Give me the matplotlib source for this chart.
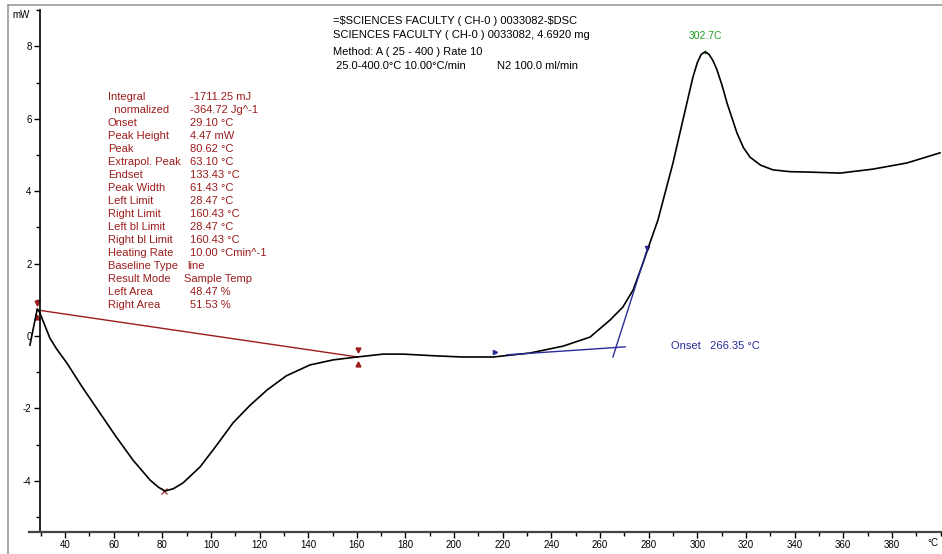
"""DSC thermogram: sample 0033082, 25-400 C at 10 C/min."""

import matplotlib
matplotlib.use("Agg")
import matplotlib.pyplot as plt
from matplotlib.lines import Line2D
from matplotlib.ticker import MultipleLocator

plt.rcParams.update({
    "font.family": ["Liberation Sans", "DejaVu Sans"],
    "font.size": 8,
    "axes.unicode_minus": False,
})

W, H = 942, 554

# ---- curve ----
temp_c = [25.6, 28.6, 29.6, 33.8, 36.5, 40.8, 47.0, 54.4, 61.0, 68.0, 75.0,
          78.5, 81.1, 84.5, 88.5, 95.5, 102.0, 109.1, 116.0, 123.1, 131.0,
          140.7, 150.2, 160.1, 170.8, 179.0, 193.0, 203.6, 216.0, 231.2,
          244.8, 255.9, 264.1, 269.4, 273.6, 277.7, 280.5, 283.8, 290.0,
          294.1, 298.2, 300.0, 301.6, 303.2, 304.8, 306.5, 308.1, 310.2,
          312.2, 316.3, 319.0, 321.7, 326.0, 331.1, 338.0, 345.1, 358.7,
          372.2, 386.2, 399.8]
heat_mw = [-0.25, 0.75, 0.65, -0.06, -0.35, -0.75, -1.40, -2.13, -2.78, -3.43,
           -3.98, -4.18, -4.28, -4.22, -4.06, -3.62, -3.05, -2.40, -1.92,
           -1.49, -1.10, -0.80, -0.66, -0.58, -0.50, -0.50, -0.55, -0.58,
           -0.58, -0.47, -0.28, -0.03, 0.44, 0.80, 1.27, 2.02, 2.57, 3.20,
           4.78, 5.97, 7.15, 7.55, 7.78, 7.85, 7.78, 7.60, 7.35, 6.92, 6.44,
           5.61, 5.20, 4.94, 4.72, 4.59, 4.54, 4.53, 4.50, 4.61, 4.78, 5.06]

# integration baseline (red) and onset construction (blue)
base_t = [28.47, 160.43]
base_v = [0.72, -0.58]
peak_min = (80.62, -4.28)
tan_base_t = [221.7, 270.3]
tan_base_v = [-0.52, -0.30]
tan_step_t = [265.3, 279.7]
tan_step_v = [-0.58, 2.46]
peak_max = (303.2, 7.85)
peak_label = "302.7C"
onset_label = "Onset   266.35 °C"

header = [
    "=\\$SCIENCES FACULTY ( CH-0 ) 0033082-\\$DSC",
    "SCIENCES FACULTY ( CH-0 ) 0033082, 4.6920 mg",
    "Method: A ( 25 - 400 ) Rate 10",
]
header_last = " 25.0-400.0°C 10.00°C/min"
header_gas = "N2 100.0 ml/min"

res_names = ["Integral", "  normalized", "Onset", "Peak Height", "Peak",
             "Extrapol. Peak", "Endset", "Peak Width", "Left Limit",
             "Right Limit", "Left bl Limit", "Right bl Limit", "Heating Rate",
             "Baseline Type", "Result Mode", "Left Area", "Right Area"]
res_values = ["-1711.25 mJ", "-364.72 Jg^-1", "29.10 °C", "4.47 mW",
              "80.62 °C", "63.10 °C", "133.43 °C", "61.43 °C", "28.47 °C",
              "160.43 °C", "28.47 °C", "160.43 °C", "10.00 °Cmin^-1", "line",
              "Sample Temp", "48.47 %", "51.53 %"]

RED = "#9c1c1c"
BLUE = "#2b2b9a"
GREEN = "#22a022"


def fp(x, y):
    return x / W, 1 - y / H


def main():
    fig = plt.figure(figsize=(W / 100, H / 100), dpi=100)
    ax = fig.add_axes([28.5 / W, (H - 531.5) / H, 912 / W, 521.3 / H])
    ax.set_xlim(25, 400)
    ax.set_ylim(-5.4, 9.0)

    for s in ("top", "right"):
        ax.spines[s].set_visible(False)
    ax.spines["left"].set_position(("data", 29.7))
    ax.spines["left"].set_linewidth(1.2)
    ax.spines["bottom"].set_linewidth(1.6)
    ax.spines["bottom"].set_color("#444444")

    ax.set_xticks(list(range(40, 381, 20)))
    ax.xaxis.set_minor_locator(MultipleLocator(10))
    ax.yaxis.set_major_locator(MultipleLocator(2))
    ax.yaxis.set_minor_locator(MultipleLocator(1))
    ax.tick_params(axis="both", which="major", length=4, width=1, pad=2,
                   labelsize=7)
    ax.tick_params(axis="both", which="minor", length=3, width=1)

    ax.plot(temp_c, heat_mw, color="black", lw=1.2, zorder=3)

    # integration baseline + limit markers
    ax.plot(base_t, base_v, color=RED, lw=1.0, zorder=2)
    for t, v in zip(base_t, base_v):
        ax.plot([t], [v + 0.2], marker="v", ms=3.5, color=RED, ls="none")
        ax.plot([t], [v - 0.2], marker="^", ms=3.5, color=RED, ls="none")
    ax.plot(*peak_min, marker="x", ms=5, mew=0.8, color=RED, ls="none")

    # onset construction
    ax.plot(tan_base_t, tan_base_v, color=BLUE, lw=1.0, zorder=4)
    ax.plot(tan_step_t, tan_step_v, color=BLUE, lw=1.0, zorder=4)
    ax.plot([216.8], [-0.45], marker=">", ms=3, color=BLUE, ls="none")
    ax.plot([279.4], [2.42], marker="v", ms=3, color=BLUE, ls="none")
    ax.text(289, -0.27, onset_label, color=BLUE, fontsize=8, va="center")

    ax.plot(*peak_max, marker="+", ms=3.5, mew=0.9, color=GREEN, ls="none")
    ax.text(peak_max[0], 8.3, peak_label, color=GREEN, fontsize=7.5,
            ha="center", va="center")

    # texts
    for line, y in zip(header, [21, 35, 52]):
        fig.text(*fp(333, y), line, fontsize=8, va="center")
    fig.text(*fp(333, 66), header_last, fontsize=8, va="center")
    fig.text(*fp(497, 66), header_gas, fontsize=8, va="center")

    for i, (name, val) in enumerate(zip(res_names, res_values)):
        y = 97 + i * 13.0
        fig.text(*fp(108, y), name, color=RED, fontsize=8, va="center")
        xv = 184 if name == "Result Mode" else (187 if name == "Baseline Type" else 190)
        fig.text(*fp(xv, y), val, color=RED, fontsize=8, va="center")

    fig.text(*fp(12, 15), "mW", fontsize=7, va="center")
    fig.text(*fp(927, 543), "°C", fontsize=7, va="center")

    # outer frame edges
    fig.add_artist(Line2D([8 / W, 8 / W], [0, 1 - 5 / H], color="#999999",
                          lw=1.2, transform=fig.transFigure))
    fig.add_artist(Line2D([8 / W, 1], [1 - 5 / H, 1 - 5 / H], color="#999999",
                          lw=1.2, transform=fig.transFigure))

    fig.savefig("out.png", dpi=100)
    plt.close(fig)


if __name__ == "__main__":
    main()
